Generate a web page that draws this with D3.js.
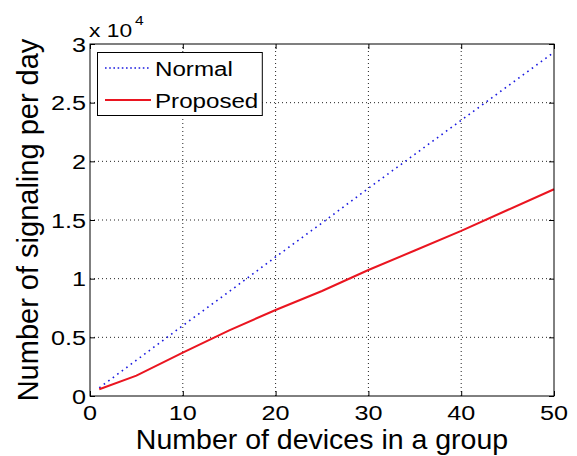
<!DOCTYPE html>
<html>
<head>
<meta charset="utf-8">
<script src="https://cdn.jsdelivr.net/npm/d3@7"></script>
<style>
  html, body { margin: 0; padding: 0; background: #fff; }
  svg { display: block; }
  text { font-family: "Liberation Sans", Arial, sans-serif; fill: #000; }
</style>
</head>
<body>
<svg id="chart" width="577" height="456"></svg>
<script>
// ---- data ----
const devices = [1, 5, 10, 15, 20, 25, 30, 35, 40, 45, 50];
const normalValues = [700, 3050, 6000, 8900, 11850, 14750, 17700, 20600, 23500, 26400, 29300];
const proposedValues = [570, 1730, 3690, 5600, 7330, 8950, 10740, 12400, 14070, 15850, 17620];
const seriesNames = ["Normal", "Proposed"];
const xTicks = [0, 10, 20, 30, 40, 50];
const yTicks = [0, 5000, 10000, 15000, 20000, 25000, 30000];
const yTickLabels = ["0", "0.5", "1", "1.5", "2", "2.5", "3"];
const xLabel = "Number of devices in a group";
const yLabel = "Number of signaling per day";

// ---- layout ----
const svg = d3.select("#chart");
const L = 90, R = 554, T = 44, B = 396;
const x = d3.scaleLinear().domain([0, 50]).range([L, R]);
const y = d3.scaleLinear().domain([0, 30000]).range([B, T]);
const sx = 1.2; // horizontal stretch of the fonts in the reference

function stretchedText(g, px, py, str, size, anchor, sxv) {
  const grp = g.append("g").attr("transform", `translate(${px},${py}) scale(${sxv},1)`);
  return grp.append("text").attr("x", 0).attr("y", 0)
    .attr("font-size", size).attr("text-anchor", anchor).text(str);
}

// grid
const grid = svg.append("g");
xTicks.slice(1, -1).forEach(t => {
  grid.append("line").attr("x1", x(t)).attr("x2", x(t)).attr("y1", B).attr("y2", T)
    .attr("stroke", "#222").attr("stroke-width", 1).attr("stroke-dasharray", "1,3");
});
yTicks.slice(1, -1).forEach(t => {
  grid.append("line").attr("x1", L).attr("x2", R).attr("y1", y(t)).attr("y2", y(t))
    .attr("stroke", "#222").attr("stroke-width", 1).attr("stroke-dasharray", "1,3");
});

// axes via d3 (ticks inward)
const tickLen = 5;
svg.append("g").attr("transform", `translate(0,${B})`)
  .call(d3.axisBottom(x).tickValues(xTicks).tickSizeInner(-tickLen).tickSizeOuter(0).tickFormat(""))
  .call(g => g.select(".domain").remove());
svg.append("g").attr("transform", `translate(0,${T})`)
  .call(d3.axisTop(x).tickValues(xTicks).tickSizeInner(-tickLen).tickSizeOuter(0).tickFormat(""))
  .call(g => g.select(".domain").remove());
svg.append("g").attr("transform", `translate(${L},0)`)
  .call(d3.axisLeft(y).tickValues(yTicks).tickSizeInner(-tickLen).tickSizeOuter(0).tickFormat(""))
  .call(g => g.select(".domain").remove());
svg.append("g").attr("transform", `translate(${R},0)`)
  .call(d3.axisRight(y).tickValues(yTicks).tickSizeInner(-tickLen).tickSizeOuter(0).tickFormat(""))
  .call(g => g.select(".domain").remove());
svg.selectAll(".tick line").attr("stroke", "#000");

// tick labels
const lab = svg.append("g");
xTicks.forEach(t => stretchedText(lab, x(t), 420, String(t), 21, "middle", sx));
yTicks.forEach((t, i) => stretchedText(lab, 86, y(t) + 7.5, yTickLabels[i], 21, "end", sx));

// exponent label
stretchedText(lab, 89, 37, "x 10", 19, "start", sx);
stretchedText(lab, 135, 25, "4", 13, "start", sx);

// axis labels
svg.append("text").attr("x", (L + R) / 2).attr("y", 449).attr("font-size", 28.5)
  .attr("text-anchor", "middle").text(xLabel);
svg.append("text").attr("transform", `translate(38,${(T + B) / 2}) rotate(-90)`)
  .attr("font-size", 29).attr("text-anchor", "middle").text(yLabel);

// lines
const line = d3.line().x(d => x(d[0])).y(d => y(d[1]));
const normalData = devices.map((d, i) => [d, normalValues[i]]);
const proposedData = devices.map((d, i) => [d, proposedValues[i]]);
svg.append("path").datum(normalData).attr("d", line).attr("fill", "none")
  .attr("stroke", "#1a1ae0").attr("stroke-width", 1.6).attr("stroke-dasharray", "1.6,4");
svg.append("path").datum(proposedData).attr("d", line).attr("fill", "none")
  .attr("stroke", "#ea1520").attr("stroke-width", 2);

// box
svg.append("rect").attr("x", L).attr("y", T).attr("width", R - L).attr("height", B - T)
  .attr("fill", "none").attr("stroke", "#000").attr("stroke-width", 1);

// legend
const lg = svg.append("g");
const lgBox = lg.append("rect").attr("x", 97.5).attr("y", 52.5).attr("height", 63)
  .attr("fill", "#fff").attr("stroke", "#000").attr("stroke-width", 1);
const rows = [68, 100];
const styles = [
  { stroke: "#1a1ae0", w: 1.6, dash: "1.6,2.6" },
  { stroke: "#ea1520", w: 2, dash: null }
];
let maxRight = 0;
seriesNames.forEach((name, i) => {
  const ln = lg.append("line").attr("x1", 105).attr("x2", 151).attr("y1", rows[i]).attr("y2", rows[i])
    .attr("stroke", styles[i].stroke).attr("stroke-width", styles[i].w);
  if (styles[i].dash) ln.attr("stroke-dasharray", styles[i].dash);
  const t = stretchedText(lg, 155, rows[i] + 7.5, name, 21, "start", 1.15);
  const w = t.node().getComputedTextLength() * 1.15;
  maxRight = Math.max(maxRight, 155 + w);
});
lgBox.attr("width", maxRight + 4 - 97.5);
</script>
</body>
</html>
